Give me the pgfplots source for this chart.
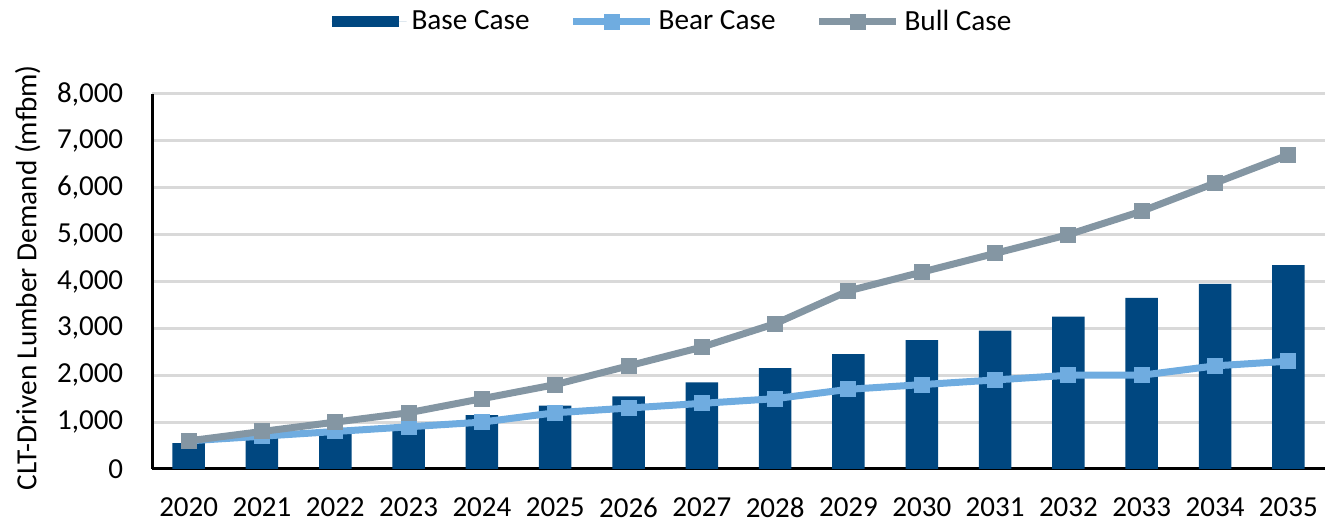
\documentclass[border=0pt]{standalone}
\usepackage{pgfplots}
\pgfplotsset{compat=1.18}
\usepackage{fontspec}
\setmainfont{Carlito}
\definecolor{basec}{RGB}{0,71,128}
\definecolor{bearc}{RGB}{111,172,224}
\definecolor{bullc}{RGB}{132,150,163}
\definecolor{gridc}{RGB}{217,217,217}
\pgfplotsset{
  linelegend/.style={legend image code/.code={\draw[##1, mark repeat=2, mark phase=2] plot coordinates {(0pt,0pt) (15.4pt,0pt) (30.8pt,0pt)};}},
  barlegend/.style={legend image code/.code={\fill[basec] (0pt,-2.2pt) rectangle (26.8pt,2.2pt); \path (0pt,0pt) -- (30pt,0pt);}}
}
\begin{document}
\begin{tikzpicture}
\path[use as bounding box] (0,0) rectangle (530pt,208.8pt);
\begin{axis}[
  at={(60.8pt,21.2pt)}, anchor=south west,
  scale only axis, width=469.2pt, height=150pt,
  xmin=-0.5, xmax=15.5, ymin=0, ymax=8000,
  axis x line*=bottom, axis y line*=left,
  axis line style={black, line width=1.2pt, -},
  xtick={0,...,15},
  xticklabels={2020,2021,2022,2023,2024,2025,2026,2027,2028,2029,2030,2031,2032,2033,2034,2035},
  ytick={0,1000,...,8000},
  scaled y ticks=false,
  /pgf/number format/.cd, 1000 sep={,}, assume math mode=true, /pgfplots/.cd,
  ymajorgrids, grid style={gridc, line width=1.2pt},
  major tick length=0pt,
  yticklabel style={font=\fontsize{11.6}{14}\selectfont, anchor=east, xshift=-8pt},
  xticklabel style={font=\fontsize{11.6}{14}\selectfont, anchor=north, yshift=-8pt},
  ylabel={CLT-Driven Lumber Demand (mfbm)},
  ylabel style={font=\fontsize{11.7}{14}\selectfont, at={(axis description cs:-0.106,0.51)}, anchor=center},
  legend columns=3,
  legend style={draw=none, fill=none, at={(0.445,1.192)}, anchor=center,
    font=\fontsize{11.7}{14}\selectfont,
    /tikz/every even column/.append style={column sep=14pt}},
]
\addplot[ybar, bar width=13pt, fill=basec, draw=none, barlegend]
  coordinates {(0,550) (1,680) (2,800) (3,900) (4,1150) (5,1350) (6,1550) (7,1850)
   (8,2150) (9,2450) (10,2750) (11,2950) (12,3250) (13,3650) (14,3950) (15,4350)};
\addlegendentry{Base Case}
\addplot[bearc, line width=2.8pt, mark=square*, mark size=3pt, mark options={solid, fill=bearc, draw=bearc, line width=0pt}, linelegend]
  coordinates {(0,600) (1,700) (2,800) (3,900) (4,1000) (5,1200) (6,1300) (7,1400)
   (8,1500) (9,1700) (10,1800) (11,1900) (12,2000) (13,2000) (14,2200) (15,2300)};
\addlegendentry{Bear Case}
\addplot[bullc, line width=2.8pt, mark=square*, mark size=3pt, mark options={solid, fill=bullc, draw=bullc, line width=0pt}, linelegend]
  coordinates {(0,600) (1,800) (2,1000) (3,1200) (4,1500) (5,1800) (6,2200) (7,2600)
   (8,3100) (9,3800) (10,4200) (11,4600) (12,5000) (13,5500) (14,6100) (15,6700)};
\addlegendentry{Bull Case}
\end{axis}
\end{tikzpicture}
\end{document}
